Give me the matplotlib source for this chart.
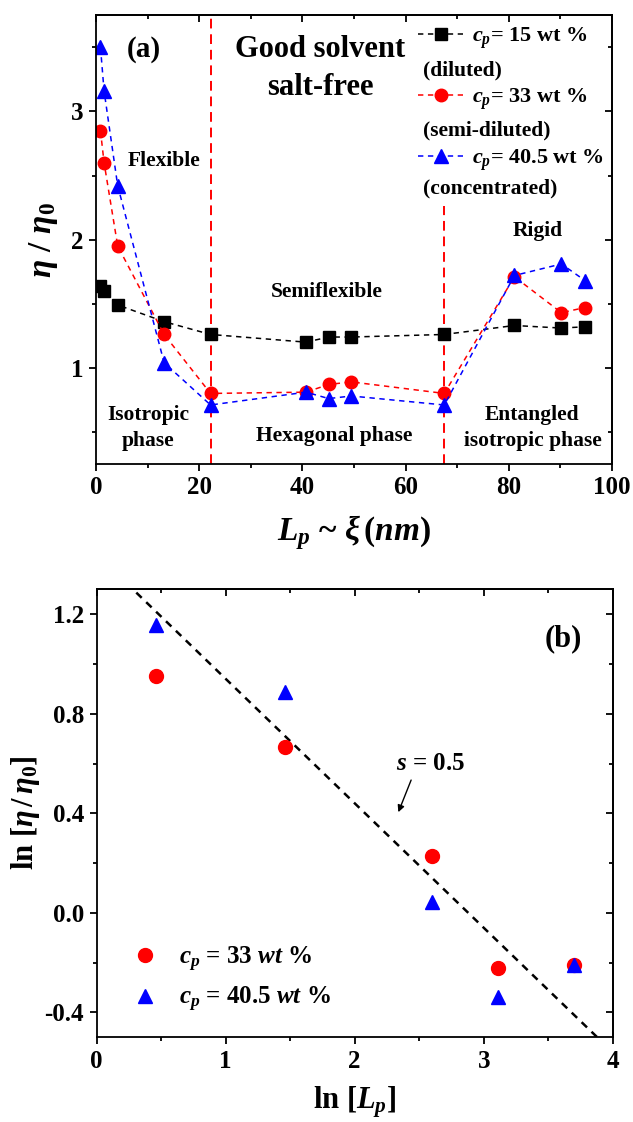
import matplotlib
matplotlib.use("Agg")
import matplotlib.pyplot as plt
from matplotlib.ticker import MultipleLocator
import numpy as np

# --- DATA: panel (a), relative viscosity vs persistence length ---
lp_nm = [0.86, 1.56, 4.2, 13.2, 22.2, 40.7, 45.1, 49.5, 67.5, 81.1, 90.2, 94.8]
eta_cp15 = [1.64, 1.60, 1.49, 1.36, 1.26, 1.20, 1.24, 1.24, 1.26, 1.33, 1.31, 1.32]
eta_cp33 = [2.85, 2.60, 1.95, 1.26, 0.80, 0.81, 0.87, 0.89, 0.80, 1.71, 1.43, 1.47]
eta_cp405 = [3.50, 3.16, 2.42, 1.04, 0.71, 0.81, 0.76, 0.78, 0.71, 1.72, 1.81, 1.68]
phase_bounds = [22.2, 67.5]
series_labels = [r"$c_p$= 15 wt %", r"$c_p$= 33 wt %", r"$c_p$= 40.5 wt %"]
series_notes = ["(diluted)", "(semi-diluted)", "(concentrated)"]

# --- DATA: panel (b), log-log ---
ln_lp = [0.46, 1.46, 2.60, 3.11, 3.70]
ln_eta_cp33 = [0.95, 0.665, 0.23, -0.22, -0.21]
ln_eta_cp405 = [1.155, 0.886, 0.045, -0.34, -0.21]
fit_slope = -0.5
fit_intercept = 1.44

plt.rcParams["font.family"] = ["Liberation Serif", "DejaVu Serif"]
plt.rcParams["font.weight"] = "bold"
plt.rcParams["axes.labelweight"] = "bold"
plt.rcParams["mathtext.fontset"] = "custom"
plt.rcParams["mathtext.rm"] = "Liberation Serif:bold"
plt.rcParams["mathtext.it"] = "Liberation Serif:italic:bold"
plt.rcParams["mathtext.bf"] = "Liberation Serif:bold"
plt.rcParams["axes.linewidth"] = 1.3


def style_axes(ax, xmajor, xminor, ymajor, yminor):
    """Origin-like ticks: out on bottom/left, in on top/right."""
    ax.xaxis.set_major_locator(MultipleLocator(xmajor))
    ax.xaxis.set_minor_locator(MultipleLocator(xminor))
    ax.yaxis.set_major_locator(MultipleLocator(ymajor))
    ax.yaxis.set_minor_locator(MultipleLocator(yminor))
    ax.tick_params(which="major", direction="out", length=5, width=1.3, labelsize=18, pad=4)
    ax.tick_params(which="minor", direction="out", length=3, width=1.3)
    top = ax.secondary_xaxis("top")
    top.xaxis.set_major_locator(MultipleLocator(xmajor))
    top.xaxis.set_minor_locator(MultipleLocator(xminor))
    top.tick_params(which="major", direction="in", length=5, width=1.3, labeltop=False)
    top.tick_params(which="minor", direction="in", length=3, width=1.3)
    right = ax.secondary_yaxis("right")
    right.yaxis.set_major_locator(MultipleLocator(ymajor))
    right.yaxis.set_minor_locator(MultipleLocator(yminor))
    right.tick_params(which="major", direction="in", length=5, width=1.3, labelright=False)
    right.tick_params(which="minor", direction="in", length=3, width=1.3)


fig = plt.figure(figsize=(6.33, 11.22), dpi=100)
ax1 = fig.add_axes([0.1517, 0.5865, 0.8150, 0.3999])
ax2 = fig.add_axes([0.1528, 0.0755, 0.8152, 0.3993])

# --- Panel (a) ---
ymin_a, ymax_a = 0.25, 3.75
ax1.axvline(phase_bounds[0], color="red", lw=1.4, ls=(0, (5, 3)), zorder=1)
ax1.axvline(phase_bounds[1], ymax=(2.26 - ymin_a) / (ymax_a - ymin_a),
            color="red", lw=1.4, ls=(0, (5, 3)), zorder=1)

dash = (0, (3.5, 3))
h1, = ax1.plot(lp_nm, eta_cp15, color="black", ls=dash, lw=1.1, marker="s", ms=8)
h2, = ax1.plot(lp_nm, eta_cp33, color="red", ls=dash, lw=1.1, marker="o", ms=9)
h3, = ax1.plot(lp_nm, eta_cp405, color="blue", ls=dash, lw=1.1, marker="^", ms=10)

ax1.set_xlim(0, 100)
ax1.set_ylim(ymin_a, ymax_a)
style_axes(ax1, 20, 10, 1, 0.5)
ax1.set_xlabel(r"$L_p$ ~ $\xi\,(nm)$", fontsize=24, labelpad=10)
ax1.set_ylabel(r"$\eta\ /\ \eta_0$", fontsize=24, labelpad=8)

leg = ax1.legend([h1, h2, h3], series_labels, loc="upper left",
                 bbox_to_anchor=(0.625, 0.977), frameon=False, fontsize=16,
                 handlelength=2.0, handletextpad=0.4, borderpad=0,
                 borderaxespad=0, labelspacing=1.6)
for note, yf in zip(series_notes, [0.878, 0.744, 0.615]):
    ax1.text(0.634, yf, note, transform=ax1.transAxes, fontsize=15.5, va="center", ha="left")

ax1.text(9.2, 3.48, "(a)", fontsize=21, ha="center", va="center")
ax1.text(43.5, 3.48, "Good solvent", fontsize=22, ha="center", va="center")
ax1.text(43.5, 3.19, "salt-free", fontsize=22, ha="center", va="center")
ax1.text(13.2, 2.61, "Flexible", fontsize=15.5, ha="center", va="center")
ax1.text(10.1, 0.53, "Isotropic\nphase", fontsize=15.5, ha="center", va="center", linespacing=1.35)
ax1.text(44.7, 1.59, "Semiflexible", fontsize=15.5, ha="center", va="center")
ax1.text(46.1, 0.47, "Hexagonal phase", fontsize=15.5, ha="center", va="center")
ax1.text(85.7, 2.07, "Rigid", fontsize=15.5, ha="center", va="center")
ax1.text(84.6, 0.53, "Entangled\nisotropic phase", fontsize=15.5, ha="center", va="center", linespacing=1.35)

# --- Panel (b) ---
xs = np.array([0.0, 4.0])
ax2.plot(xs, fit_intercept + fit_slope * xs, color="black", lw=1.8, ls=(0, (3, 2.5)))
p1, = ax2.plot(ln_lp, ln_eta_cp33, ls="none", marker="o", ms=10, color="red")
p2, = ax2.plot(ln_lp, ln_eta_cp405, ls="none", marker="^", ms=10.5, color="blue")

ax2.set_xlim(0, 4)
ax2.set_ylim(-0.5, 1.3)
style_axes(ax2, 1, 0.5, 0.4, 0.2)
ax2.yaxis.set_major_formatter(plt.FuncFormatter(lambda v, _: f"{v:.1f}"))
ax2.set_xlabel(r"ln [$L_p$]", fontsize=22, labelpad=8)
ax2.set_ylabel(r"ln [$\eta\,/\,\eta_0$]", fontsize=22, labelpad=2)

ax2.text(3.62, 1.10, "(b)", fontsize=22, ha="center", va="center")
ax2.annotate(r"$s$ = 0.5", xy=(2.33, 0.394), xytext=(2.32, 0.555),
             fontsize=18, ha="left", va="bottom",
             arrowprops=dict(arrowstyle="-|>", color="black", lw=1.0,
                             mutation_scale=10, relpos=(0.25, 0.0)))

ax2.legend([p1, p2], [r"$c_p$ = 33 $wt$ %", r"$c_p$ = 40.5 $wt$ %"], loc="lower left",
           bbox_to_anchor=(0.058, 0.052), frameon=False, fontsize=18,
           handlelength=1.5, handletextpad=0.6, borderpad=0, borderaxespad=0,
           labelspacing=0.45, numpoints=1)

fig.savefig("out.png", dpi=100)
plt.close(fig)
